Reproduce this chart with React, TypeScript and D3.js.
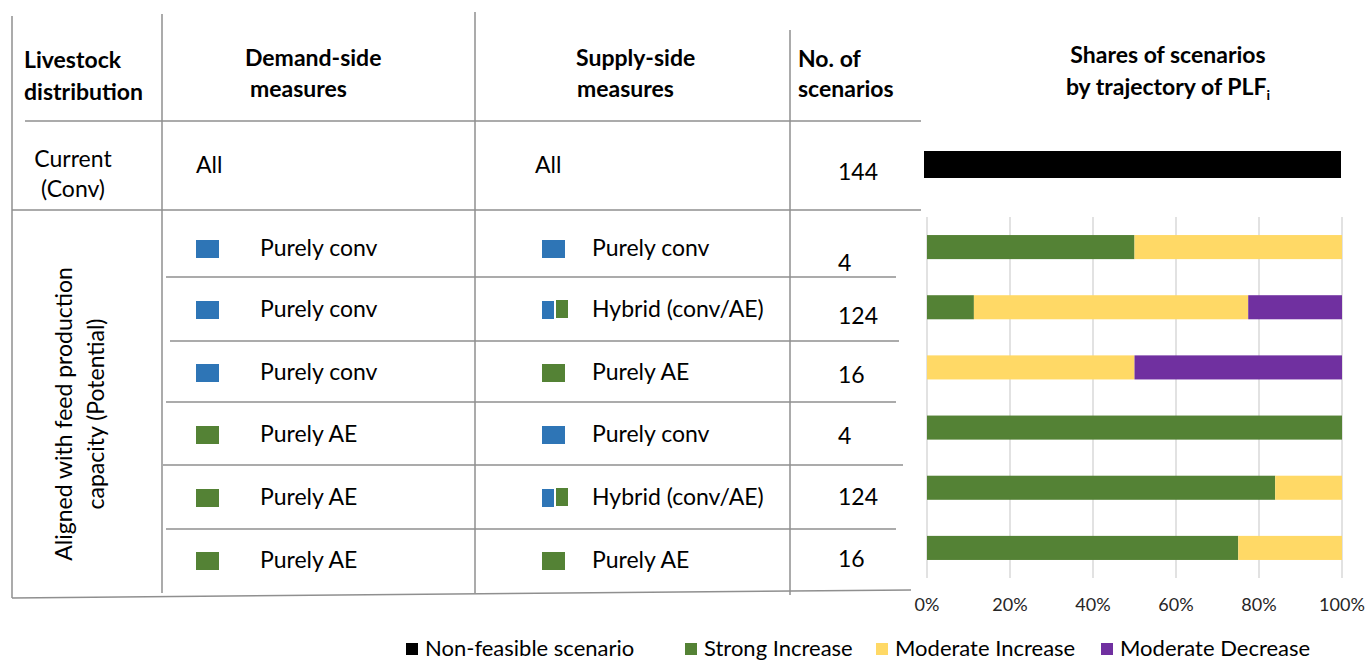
import React from "react";
import * as d3 from "d3";

// table content
const demandSide = ["Purely conv", "Purely conv", "Purely conv", "Purely AE", "Purely AE", "Purely AE"];
const supplySide = ["Purely conv", "Hybrid (conv/AE)", "Purely AE", "Purely conv", "Hybrid (conv/AE)", "Purely AE"];
const scenarioCounts = [4, 124, 16, 4, 124, 16];
const currentCount = 144;

// shares of scenarios (%) by trajectory of PLFi
const strongIncrease = [50, 11.3, 0, 100, 83.9, 75];
const moderateIncrease = [50, 66.1, 50, 0, 16.1, 25];
const moderateDecrease = [0, 22.6, 50, 0, 0, 0];
const nonFeasible = [100];

const ticks = [0, 20, 40, 60, 80, 100];
const legendLabels = ["Non-feasible scenario", "Strong Increase", "Moderate Increase", "Moderate Decrease"];

const BLUE = "#2e75b6";
const GREEN = "#548235";
const YELLOW = "#ffd966";
const PURPLE = "#7030a0";
const LINE = "#8f8f8f";
const FONT = "Lato, 'Open Sans', sans-serif";

// layout of the table rows (baselines)
const textBase = [256, 317, 380, 442, 505, 568];
const countBase = [271, 324, 383, 444, 505, 567];
const rowLines = [
  { x1: 166, x2: 896, y: 277 },
  { x1: 170, x2: 899, y: 341 },
  { x1: 166, x2: 896, y: 402 },
  { x1: 163, x2: 903, y: 465 },
  { x1: 166, x2: 896, y: 529 },
];

function Icon({ kind, x, y }: { kind: string; x: number; y: number }) {
  if (kind.startsWith("Hybrid")) {
    return (
      <g>
        <rect x={x} y={y} width={12} height={18} fill={BLUE} />
        <rect x={x + 14} y={y - 1} width={12} height={18} fill={GREEN} />
      </g>
    );
  }
  return <rect x={x} y={y} width={23} height={18} fill={kind.endsWith("AE") ? GREEN : BLUE} />;
}

export default function App() {
  const x = d3.scaleLinear().domain([0, 100]).range([927, 1342]);
  const xTop = d3.scaleLinear().domain([0, 100]).range([924, 1341]);
  const rows = d3.range(demandSide.length);
  const y = d3.scaleBand<number>().domain(rows).range([217, 578]).paddingInner(0.6).paddingOuter(0.3);

  const stack = d3
    .stack<number>()
    .keys(["s", "mi", "md"])
    .value((i, key) => (key === "s" ? strongIncrease[i] : key === "mi" ? moderateIncrease[i] : moderateDecrease[i]));
  const series = stack(rows);
  const seriesColors = [GREEN, YELLOW, PURPLE];

  const legendColors = ["#000000", GREEN, YELLOW, PURPLE];
  const legendX = [406, 685, 876, 1101];

  const header = { fontFamily: FONT, fontSize: 23, fontWeight: 700, fill: "#000" } as const;
  const cell = { fontFamily: FONT, fontSize: 23, fill: "#000" } as const;

  return (
    <svg
      width={1365}
      height={660}
      style={{ position: "absolute", left: 0, top: 0, background: "#fff" }}
    >
      {/* table grid */}
      <g stroke={LINE} strokeWidth={1.5} fill="none">
        <line x1={12} y1={16} x2={12} y2={598} />
        <line x1={162} y1={14} x2={162} y2={593} />
        <line x1={475} y1={12} x2={475} y2={593} />
        <line x1={790} y1={30} x2={790} y2={595} />
        <line x1={25} y1={121} x2={921} y2={121} />
        <line x1={12} y1={210} x2={921} y2={210} />
        {rowLines.map((l, i) => (
          <line key={i} x1={l.x1} x2={l.x2} y1={l.y} y2={l.y} />
        ))}
        <line x1={12} y1={598} x2={911} y2={590} />
      </g>

      {/* headers */}
      <text {...header}>
        <tspan x={24} y={68}>Livestock</tspan>
        <tspan x={24} y={100}>distribution</tspan>
      </text>
      <text {...header}>
        <tspan x={245} y={66}>Demand-side</tspan>
        <tspan x={250} y={97}>measures</tspan>
      </text>
      <text {...header}>
        <tspan x={576} y={66}>Supply-side</tspan>
        <tspan x={577} y={97}>measures</tspan>
      </text>
      <text {...header}>
        <tspan x={798} y={67}>No. of</tspan>
        <tspan x={798} y={97}>scenarios</tspan>
      </text>
      <text {...header} textAnchor="middle">
        <tspan x={1168} y={63}>Shares of scenarios</tspan>
        <tspan x={1168} y={95}>
          by trajectory of PLF
          <tspan fontSize={14} dy={5}>i</tspan>
        </tspan>
      </text>

      {/* current row */}
      <text {...cell} textAnchor="middle">
        <tspan x={73} y={167}>Current</tspan>
        <tspan x={73} y={197}>(Conv)</tspan>
      </text>
      <text {...cell} x={196} y={173}>All</text>
      <text {...cell} x={535} y={173}>All</text>
      <text {...cell} x={838} y={180}>{currentCount}</text>

      {/* potential rows */}
      <text {...cell} textAnchor="middle" transform="translate(0,414) rotate(-90)">
        <tspan x={0} y={72}>Aligned with feed production</tspan>
        <tspan x={0} y={104}>capacity (Potential)</tspan>
      </text>
      {rows.map((i) => (
        <g key={i}>
          <Icon kind={demandSide[i]} x={196} y={textBase[i] - 16} />
          <text {...cell} x={260} y={textBase[i]}>{demandSide[i]}</text>
          <Icon kind={supplySide[i]} x={542} y={textBase[i] - 16} />
          <text {...cell} x={592} y={textBase[i]}>{supplySide[i]}</text>
          <text {...cell} x={838} y={countBase[i]}>{scenarioCounts[i]}</text>
        </g>
      ))}

      {/* top bar: current distribution */}
      {nonFeasible.map((v, i) => (
        <rect key={i} x={xTop(0)} y={151} width={xTop(v) - xTop(0)} height={27} fill="#000" />
      ))}

      {/* gridlines */}
      <g stroke="#d9d9d9" strokeWidth={1.5}>
        {ticks.map((t) => (
          <line key={t} x1={x(t)} x2={x(t)} y1={217} y2={578} />
        ))}
      </g>

      {/* stacked bars */}
      {series.map((s, k) => (
        <g key={s.key} fill={seriesColors[k]}>
          {s.map((d, i) =>
            d[1] - d[0] > 0 ? (
              <rect key={i} x={x(d[0])} y={y(i)} width={x(d[1]) - x(d[0])} height={y.bandwidth()} />
            ) : null
          )}
        </g>
      ))}

      {/* x axis labels */}
      {ticks.map((t) => (
        <text key={t} x={x(t)} y={611} textAnchor="middle" fontFamily={FONT} fontSize={18} fill="#262626">
          {t}%
        </text>
      ))}

      {/* legend */}
      {legendLabels.map((l, i) => (
        <g key={l}>
          <rect x={legendX[i]} y={643} width={12} height={12} fill={legendColors[i]} />
          <text x={legendX[i] + 19} y={656} fontFamily={FONT} fontSize={22} fill="#000">
            {l}
          </text>
        </g>
      ))}
    </svg>
  );
}
